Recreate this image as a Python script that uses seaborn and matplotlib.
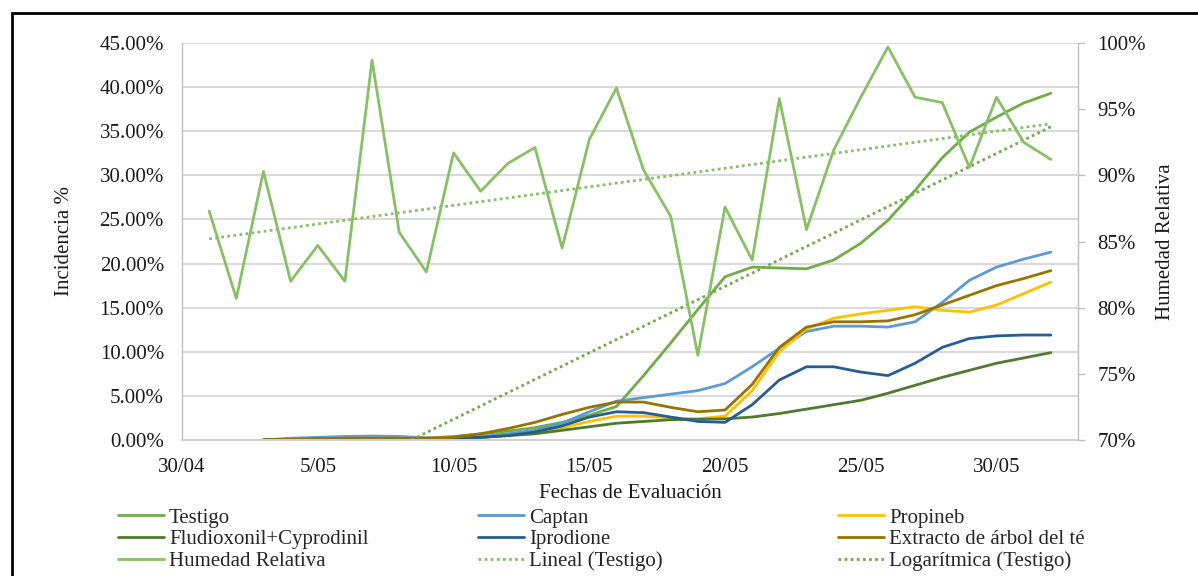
import numpy as np
import pandas as pd
import matplotlib
matplotlib.use('Agg')
import matplotlib.pyplot as plt
import matplotlib.dates as mdates
from matplotlib.ticker import FuncFormatter, MultipleLocator
from matplotlib.lines import Line2D
from matplotlib.patches import Rectangle
import seaborn as sns

sns.set_style('white')
plt.rcParams['font.family'] = ['Liberation Serif', 'DejaVu Serif']

# fechas de evaluacion (3/05 - 1/06) y de humedad (1/05 - 1/06)
fechas_eval = pd.date_range('2019-05-03', '2019-06-01', freq='D')
fechas_hr = pd.date_range('2019-05-01', '2019-06-01', freq='D')

# incidencia %
testigo = [0.0, 0.05, 0.1, 0.1, 0.1, 0.1, 0.2, 0.4, 0.7, 1.0, 1.4, 2.0, 2.8, 3.8, 7.3,
           11.0, 14.8, 18.5, 19.6, 19.5, 19.4, 20.4, 22.3, 24.9, 28.3, 32.0, 34.9, 36.6, 38.2, 39.3]
captan = [0.0, 0.2, 0.3, 0.4, 0.45, 0.4, 0.25, 0.2, 0.4, 0.7, 1.1, 1.9, 3.2, 4.4, 4.8,
          5.2, 5.6, 6.4, 8.3, 10.4, 12.3, 12.9, 12.9, 12.8, 13.4, 15.6, 18.1, 19.6, 20.5, 21.3]
propineb = [0.0, 0.1, 0.15, 0.2, 0.2, 0.2, 0.2, 0.25, 0.3, 0.5, 0.8, 1.4, 2.1, 2.7, 2.7,
            2.5, 2.4, 2.7, 5.6, 10.0, 12.6, 13.8, 14.3, 14.7, 15.1, 14.7, 14.5, 15.3, 16.6, 17.9]
fludioxonil = [0.0, 0.05, 0.1, 0.1, 0.1, 0.1, 0.1, 0.2, 0.3, 0.5, 0.7, 1.1, 1.5, 1.9, 2.1,
               2.3, 2.35, 2.4, 2.6, 3.0, 3.5, 4.0, 4.5, 5.3, 6.2, 7.1, 7.9, 8.7, 9.3, 9.9]
iprodione = [0.0, 0.05, 0.1, 0.1, 0.1, 0.1, 0.1, 0.15, 0.3, 0.5, 0.9, 1.6, 2.6, 3.2, 3.1,
             2.6, 2.1, 2.0, 4.0, 6.8, 8.3, 8.3, 7.7, 7.3, 8.7, 10.5, 11.5, 11.8, 11.9, 11.9]
extracto = [0.0, 0.1, 0.15, 0.2, 0.2, 0.2, 0.2, 0.3, 0.7, 1.3, 2.0, 2.9, 3.7, 4.3, 4.3,
            3.7, 3.2, 3.4, 6.3, 10.5, 12.8, 13.4, 13.4, 13.5, 14.2, 15.3, 16.4, 17.5, 18.3, 19.2]

# humedad relativa %
humedad = [87.3, 80.7, 90.3, 82.0, 84.7, 82.0, 98.7, 85.7, 82.7, 91.7, 88.8, 90.9, 92.1, 84.5, 92.7, 96.6,
           90.4, 86.9, 76.4, 87.6, 83.6, 95.8, 85.9, 91.9, 95.9, 99.7, 95.9, 95.5, 90.6, 95.9, 92.5, 91.2]

# lineas de tendencia (extremos)
tend_lineal_fechas = ['2019-05-01', '2019-06-01']
tend_lineal = [85.2, 93.9]
tend_log_fechas = ['2019-05-03', '2019-06-01']
tend_log = [-8.2, 35.5]

tratamientos = ['Testigo', 'Captan', 'Propineb', 'Fludioxonil+Cyprodinil', 'Iprodione',
                'Extracto de árbol del té']
colores = ['#70AD47', '#5B9BD5', '#FFC000', '#4F7A30', '#255E91', '#997300']
col_hr = '#88C065'

df = pd.DataFrame({
    'fecha': np.tile(fechas_eval, len(tratamientos)),
    'tratamiento': np.repeat(tratamientos, len(fechas_eval)),
    'incidencia': np.concatenate([testigo, captan, propineb, fludioxonil, iprodione, extracto]),
})
df_hr = pd.DataFrame({'fecha': fechas_hr, 'hr': humedad})
df_lin = pd.DataFrame({'fecha': pd.to_datetime(tend_lineal_fechas), 'v': tend_lineal})
df_log = pd.DataFrame({'fecha': pd.to_datetime(tend_log_fechas), 'v': tend_log})

fig = plt.figure(figsize=(11.98, 5.76), dpi=100)
ax = fig.add_axes([182 / 1198, 1 - 440 / 576, 896 / 1198, 397 / 576])
ax2 = ax.twinx()

lw = 2.0
sns.lineplot(data=df, x='fecha', y='incidencia', hue='tratamiento', hue_order=tratamientos,
             palette=colores, lw=lw, legend=False, ax=ax)
sns.lineplot(data=df_log, x='fecha', y='v', color='#70AD47', lw=2.0,
             linestyle=(0, (1, 1.2)), ax=ax)
sns.lineplot(data=df_hr, x='fecha', y='hr', color=col_hr, lw=lw, ax=ax2)
sns.lineplot(data=df_lin, x='fecha', y='v', color=col_hr, lw=2.0,
             linestyle=(0, (1, 1.2)), ax=ax2)

# ejes
ax.set_ylim(0, 45)
ax.yaxis.set_major_locator(MultipleLocator(5))
ax.yaxis.set_major_formatter(FuncFormatter(lambda v, p: f'{v:.2f}%'))
ax2.set_ylim(70, 100)
ax2.yaxis.set_major_locator(MultipleLocator(5))
ax2.yaxis.set_major_formatter(FuncFormatter(lambda v, p: f'{v:.0f}%'))

ax.set_xlim(pd.Timestamp('2019-04-30'), pd.Timestamp('2019-06-02'))
ax.xaxis.set_major_locator(mdates.DayLocator(bymonthday=[5, 10, 15, 20, 25, 30]))
ax.xaxis.set_major_formatter(FuncFormatter(
    lambda v, p: f'{mdates.num2date(v).day}/{mdates.num2date(v).month:02d}'))

ax.yaxis.grid(True, color='#D9D9D9', lw=1.4)
ax.xaxis.grid(False)
ax.set_axisbelow(True)

for s in ['top', 'right']:
    ax.spines[s].set_visible(False)
for s in ['top', 'left', 'bottom']:
    ax2.spines[s].set_visible(False)
ax.spines['left'].set_color('#BFBFBF')
ax.spines['left'].set_linewidth(1.0)
ax.spines['bottom'].set_color('#D0D0D0')
ax.spines['bottom'].set_linewidth(1.4)
ax2.spines['right'].set_color('#BFBFBF')
ax2.spines['right'].set_linewidth(1.0)

ax.tick_params(axis='y', length=0, pad=13, labelsize=15, colors='#1a1a1a')
ax.tick_params(axis='x', length=0, pad=13, labelsize=15, colors='#1a1a1a')
ax2.tick_params(axis='y', length=5, width=1, color='#BFBFBF', pad=9, labelsize=15,
                labelcolor='#1a1a1a')

ax.set_xlabel('Fechas de Evaluación', fontsize=15, labelpad=5, color='#1a1a1a')
ax.set_ylabel('Incidencia %', fontsize=15, labelpad=18, color='#1a1a1a')
ax2.set_ylabel('Humedad Relativa', fontsize=15, labelpad=7, color='#1a1a1a')

# leyenda en tres columnas
dots = (0, (1, 1.2))
columnas = [
    [('Testigo', colores[0], '-'), ('Fludioxonil+Cyprodinil', colores[3], '-'),
     ('Humedad Relativa', col_hr, '-')],
    [('Captan', colores[1], '-'), ('Iprodione', colores[4], '-'),
     ('Lineal (Testigo)', col_hr, dots)],
    [('Propineb', colores[2], '-'), ('Extracto de árbol del té', colores[5], '-'),
     ('Logarítmica (Testigo)', '#70AD47', dots)],
]
for i, col in enumerate(columnas):
    handles = [Line2D([], [], color=c, lw=2.0, linestyle=ls) for _, c, ls in col]
    labels = [t for t, _, _ in col]
    fig.legend(handles, labels, loc='upper left',
               bbox_to_anchor=((118 + 360 * i) / 1198, 1 - 508 / 576),
               frameon=False, fontsize=15, handlelength=2.2, handletextpad=0.25,
               labelspacing=0.1, borderpad=0, borderaxespad=0)

# marco exterior
fig.patches.append(Rectangle((12 / 1198, -0.1), 1.2, 1.1 - 13 / 576, transform=fig.transFigure,
                             fill=False, edgecolor='black', lw=2.0, clip_on=False))

fig.savefig('out.png', dpi=100)
